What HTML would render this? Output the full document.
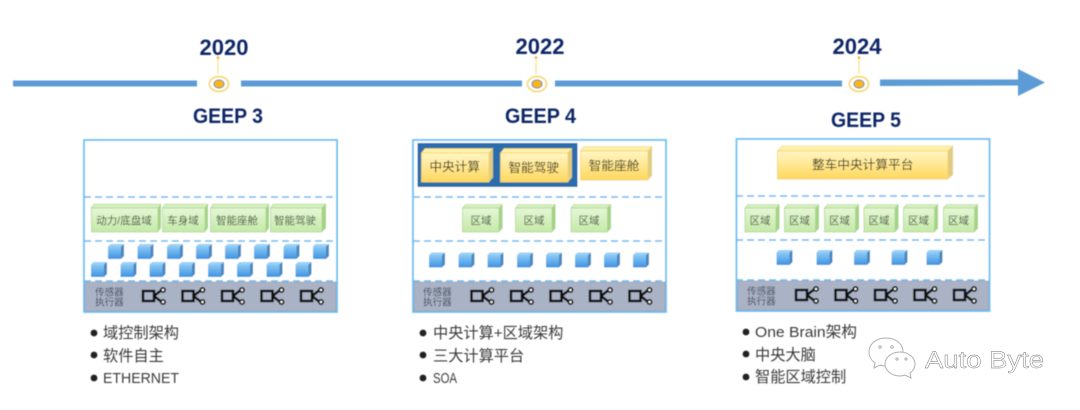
<!DOCTYPE html>
<html lang="zh">
<head>
<meta charset="utf-8">
<style>
html,body{margin:0;padding:0;background:#fff;width:1080px;height:410px;overflow:hidden}
svg{display:block}
text{font-family:"Liberation Sans","Noto Sans CJK SC",sans-serif}
.yr{font-size:22px;font-weight:bold;fill:#0f2766;text-anchor:middle}
.gp{font-size:21px;font-weight:bold;fill:#0f2766}
.li{font-size:15.2px;fill:#3a3a3a}
.sn{font-size:9.6px;fill:#3f4a5c}
.gt{font-size:10.5px;fill:#3f4f3d;text-anchor:middle}
.yt{font-size:12.7px;fill:#3a3418;text-anchor:middle}
.dash{stroke:#64b8f0;stroke-width:1.6;stroke-dasharray:7 4;fill:none}
.frame{fill:#fff;stroke:#6cc0f4;stroke-width:1.8}
.band{fill:#aab3c5;stroke:#8f9aae;stroke-width:.6}
</style>
</head>
<body>
<svg width="1080" height="410" viewBox="0 0 1080 410" xmlns="http://www.w3.org/2000/svg">
<defs>
<linearGradient id="gB" x1="0" y1="0" x2="0" y2="1"><stop offset="0" stop-color="#8ccaf5"/><stop offset="1" stop-color="#3f92e2"/></linearGradient>
<linearGradient id="gG" x1="0" y1="0" x2="0" y2="1"><stop offset="0" stop-color="#e6f6d6"/><stop offset="1" stop-color="#c4e9a8"/></linearGradient>
<linearGradient id="gY" x1="0" y1="0" x2="0" y2="1"><stop offset="0" stop-color="#fff6c4"/><stop offset="1" stop-color="#ffd75e"/></linearGradient>
<filter id="soft" x="-2%" y="-2%" width="104%" height="104%"><feGaussianBlur stdDeviation="0.4"/></filter>
<g id="cube">
<polygon points="2.5,0 16,0 13,2.5 0,2.5" fill="#98d0f7"/>
<polygon points="13,2.5 16,0 16,12 13,15" fill="#4a88c0"/>
<rect x="0" y="2.5" width="13" height="12.5" fill="url(#gB)"/>
</g>
<g id="sensor" fill="none" stroke="#0a0a0a" stroke-width="2.5">
<rect x="1" y="4" width="11" height="10"/>
<path d="M12 9 L19 3.5 M12 9 L19 14.5"/>
<circle cx="21" cy="3" r="2.1" fill="#fff" stroke-width="1.8"/>
<circle cx="21" cy="15" r="2.1" fill="#fff" stroke-width="1.8"/>
</g>
<g id="g41">
<polygon points="3.5,0.5 40.5,0.5 37,4 0.5,4" fill="#d5efbf" stroke="#a8d48c" stroke-width=".6"/>
<polygon points="37,4 40.5,0.5 40.5,24.5 37,28" fill="#a4d386"/>
<rect x="0.5" y="4" width="36.5" height="24" fill="url(#gG)" stroke="#a8d48c" stroke-width=".7"/>
</g>
<g id="g35">
<polygon points="3.5,0.5 35,0.5 31.5,4 0.5,4" fill="#d5efbf" stroke="#a8d48c" stroke-width=".6"/>
<polygon points="31.5,4 35,0.5 35,24.5 31.5,28" fill="#a4d386"/>
<rect x="0.5" y="4" width="31" height="24" fill="url(#gG)" stroke="#a8d48c" stroke-width=".7"/>
</g>
<g id="y72">
<polygon points="4,0.5 72,0.5 68,5 0.5,5" fill="#fff0a8" stroke="#f3d36c" stroke-width=".6"/>
<polygon points="68,5 72,0.5 72,29.5 68,34" fill="#e0cc80"/>
<rect x="0.5" y="5" width="67.5" height="29" fill="url(#gY)" stroke="#f3d36c" stroke-width=".8"/>
</g>
</defs>

<rect width="1080" height="410" fill="#fff"/>

<g filter="url(#soft)">
<!-- timeline -->
<g fill="#5b9bd5">
<rect x="13" y="80.5" width="184" height="6"/>
<rect x="241" y="80.5" width="281" height="6"/>
<rect x="555" y="80.5" width="287" height="6"/>
<polygon points="880,79.5 1018,79.5 1018,69 1045,82.5 1018,96 1018,85.5 880,86"/>
</g>
<g>
<line x1="218" y1="58" x2="218" y2="74" stroke="#f8de8a" stroke-width="1.2"/>
<circle cx="218" cy="57.5" r="1.3" fill="#f0b429"/>
<ellipse cx="219" cy="84" rx="9.5" ry="7.5" fill="#fff" stroke="#f7d050" stroke-width="1.4"/>
<ellipse cx="219" cy="84" rx="5" ry="4" fill="#ffb800" stroke="#7f8ea0" stroke-width="1.2"/>
</g>
<g>
<line x1="536" y1="58" x2="536" y2="74" stroke="#f8de8a" stroke-width="1.2"/>
<circle cx="536" cy="57.5" r="1.3" fill="#f0b429"/>
<ellipse cx="537" cy="84" rx="9.5" ry="7.5" fill="#fff" stroke="#f7d050" stroke-width="1.4"/>
<ellipse cx="537" cy="84" rx="5" ry="4" fill="#ffb800" stroke="#7f8ea0" stroke-width="1.2"/>
</g>
<g>
<line x1="859" y1="58" x2="859" y2="74" stroke="#f8de8a" stroke-width="1.2"/>
<circle cx="859" cy="57.5" r="1.3" fill="#f0b429"/>
<ellipse cx="859" cy="84" rx="9.5" ry="7.5" fill="#fff" stroke="#f7d050" stroke-width="1.4"/>
<ellipse cx="859" cy="84" rx="5" ry="4" fill="#ffb800" stroke="#7f8ea0" stroke-width="1.2"/>
</g>
<text class="yr" x="224" y="55">2020</text>
<text class="yr" x="540" y="54">2022</text>
<text class="yr" x="857" y="54">2024</text>
<text class="gp" x="193" y="123" textLength="70" lengthAdjust="spacingAndGlyphs">GEEP 3</text>
<text class="gp" x="505" y="123" textLength="71" lengthAdjust="spacingAndGlyphs">GEEP 4</text>
<text class="gp" x="831" y="127" textLength="70" lengthAdjust="spacingAndGlyphs">GEEP 5</text>

<!-- Panel 1 -->
<rect class="frame" x="84" y="140" width="253" height="172"/>
<rect class="band" x="85" y="282" width="251" height="29"/>
<path class="dash" d="M84 197H337M84 241H337M84 281H337"/>
<g>
<polygon points="94,204 161,204 158,208 91,208" fill="#d5efbf" stroke="#a8d48c" stroke-width=".6"/>
<polygon points="158,208 161,204 161,228 158,232" fill="#a4d386"/>
<rect x="91.5" y="208" width="66.5" height="24" fill="url(#gG)" stroke="#a8d48c" stroke-width=".7"/>
<polygon points="165,204 208,204 205,208 162.5,208" fill="#d5efbf" stroke="#a8d48c" stroke-width=".6"/>
<polygon points="205,208 208,204 208,228 205,232" fill="#a4d386"/>
<rect x="162.5" y="208" width="42.5" height="24" fill="url(#gG)" stroke="#a8d48c" stroke-width=".7"/>
<polygon points="213,204 269,204 266,208 210.5,208" fill="#d5efbf" stroke="#a8d48c" stroke-width=".6"/>
<polygon points="266,208 269,204 269,228 266,232" fill="#a4d386"/>
<rect x="210.5" y="208" width="55.5" height="24" fill="url(#gG)" stroke="#a8d48c" stroke-width=".7"/>
<polygon points="273,204 326,204 322,208 270.5,208" fill="#d5efbf" stroke="#a8d48c" stroke-width=".6"/>
<polygon points="322,208 326,204 326,228 322,232" fill="#a4d386"/>
<rect x="270.5" y="208" width="51.5" height="24" fill="url(#gG)" stroke="#a8d48c" stroke-width=".7"/>
</g>
<text class="gt" x="124" y="224">动力/底盘域</text>
<text class="gt" x="183" y="224">车身域</text>
<text class="gt" x="237" y="224">智能座舱</text>
<text class="gt" x="295" y="224">智能驾驶</text>
<use href="#cube" x="108" y="244"/><use href="#cube" x="137.5" y="244"/><use href="#cube" x="167" y="244"/><use href="#cube" x="196" y="244"/><use href="#cube" x="225" y="244"/><use href="#cube" x="254" y="244"/><use href="#cube" x="283.5" y="244"/><use href="#cube" x="313" y="244"/>
<use href="#cube" x="91" y="262"/><use href="#cube" x="120.5" y="262"/><use href="#cube" x="149.5" y="262"/><use href="#cube" x="179" y="262"/><use href="#cube" x="208" y="262"/><use href="#cube" x="237" y="262"/><use href="#cube" x="266.5" y="262"/><use href="#cube" x="295.5" y="262"/>
<text class="sn" x="95" y="295.5">传感器</text>
<text class="sn" x="95" y="305.5">执行器</text>
<use href="#sensor" x="142" y="287"/><use href="#sensor" x="181.5" y="287"/><use href="#sensor" x="221" y="287"/><use href="#sensor" x="260.5" y="287"/><use href="#sensor" x="300" y="287"/>

<!-- Panel 2 -->
<rect class="frame" x="413" y="140" width="253" height="172"/>
<rect class="band" x="414" y="282" width="251" height="29"/>
<path class="dash" d="M413 197H666M413 241H666M413 281H666"/>
<rect x="417.5" y="143" width="160" height="44" fill="#2a6cac"/>
<use href="#y72" x="421" y="148"/><use href="#y72" x="500" y="148"/><use href="#y72" x="580" y="146"/>
<text class="yt" x="454.7" y="171">中央计算</text>
<text class="yt" x="533.7" y="172">智能驾驶</text>
<text class="yt" x="614" y="170">智能座舱</text>
<use href="#g41" x="462" y="204"/><use href="#g41" x="515" y="204"/><use href="#g41" x="570.5" y="204"/>
<text class="gt" x="481" y="224">区域</text>
<text class="gt" x="534" y="224">区域</text>
<text class="gt" x="589" y="224">区域</text>
<use href="#cube" x="429" y="252.5"/><use href="#cube" x="458.5" y="252.5"/><use href="#cube" x="487.5" y="252.5"/><use href="#cube" x="517" y="252.5"/><use href="#cube" x="546" y="252.5"/><use href="#cube" x="575" y="252.5"/><use href="#cube" x="604" y="252.5"/><use href="#cube" x="633" y="252.5"/>
<text class="sn" x="423" y="295.5">传感器</text>
<text class="sn" x="423" y="305.5">执行器</text>
<use href="#sensor" x="470.5" y="287"/><use href="#sensor" x="510" y="287"/><use href="#sensor" x="549.5" y="287"/><use href="#sensor" x="589" y="287"/><use href="#sensor" x="628.5" y="287"/>

<!-- Panel 3 -->
<rect class="frame" x="736.5" y="139" width="253" height="172"/>
<rect class="band" x="737.5" y="281" width="251" height="29"/>
<path class="dash" d="M736 196H989M736 240H989M736 280H989"/>
<g>
<polygon points="782,146 953,146 948,151 777.5,151" fill="#fff0a8" stroke="#f3d36c" stroke-width=".6"/>
<polygon points="948,151 953,146 953,175 948,179" fill="#e0cc80"/>
<rect x="777.5" y="151" width="170.5" height="28" fill="url(#gY)" stroke="#f3d36c" stroke-width=".8"/>
</g>
<text class="yt" x="862.7" y="169">整车中央计算平台</text>
<use href="#g35" x="744.5" y="204"/><use href="#g35" x="784" y="204"/><use href="#g35" x="824" y="204"/><use href="#g35" x="863.5" y="204"/><use href="#g35" x="903" y="204"/><use href="#g35" x="943" y="204"/>
<text class="gt" x="760" y="224">区域</text>
<text class="gt" x="799.5" y="224">区域</text>
<text class="gt" x="839.5" y="224">区域</text>
<text class="gt" x="879" y="224">区域</text>
<text class="gt" x="918.5" y="224">区域</text>
<text class="gt" x="958.5" y="224">区域</text>
<use href="#cube" x="776.5" y="250"/><use href="#cube" x="816.5" y="250"/><use href="#cube" x="854" y="250"/><use href="#cube" x="891.5" y="250"/><use href="#cube" x="926.5" y="250"/>
<text class="sn" x="747" y="294.5">传感器</text>
<text class="sn" x="747" y="304.5">执行器</text>
<use href="#sensor" x="795" y="286"/><use href="#sensor" x="834.5" y="286"/><use href="#sensor" x="874" y="286"/><use href="#sensor" x="913.5" y="286"/><use href="#sensor" x="953" y="286"/>

<!-- Lists -->
<g fill="#222">
<circle cx="94" cy="333" r="3.4"/><circle cx="94" cy="355" r="3.4"/><circle cx="94" cy="378" r="3.4"/>
<circle cx="423" cy="333" r="3.4"/><circle cx="423" cy="355" r="3.4"/><circle cx="423" cy="378" r="3.4"/>
<circle cx="746" cy="332" r="3.4"/><circle cx="746" cy="354" r="3.4"/><circle cx="746" cy="377" r="3.4"/>
</g>
<text class="li" x="103" y="338">域控制架构</text>
<text class="li" x="103" y="361">软件自主</text>
<text class="li" x="103" y="383" textLength="76" lengthAdjust="spacingAndGlyphs">ETHERNET</text>
<text class="li" x="433" y="338">中央计算+区域架构</text>
<text class="li" x="433" y="361">三大计算平台</text>
<text class="li" x="433" y="383" textLength="24" lengthAdjust="spacingAndGlyphs">SOA</text>
<text class="li" x="755" y="337" textLength="102" lengthAdjust="spacingAndGlyphs">One Brain架构</text>
<text class="li" x="755" y="360">中央大脑</text>
<text class="li" x="755" y="382">智能区域控制</text>
</g>

<!-- Watermark -->
<g fill="#fff" stroke="#b0b0b0" stroke-width="1">
<path d="M886 338c-10 0-17 6-17 14 0 5 2 8 6 11l-1 5 6-3c2 1 4 1 6 1 10 0 17-6 17-14s-7-14-17-14z"/>
<path d="M900 352c-9 0-15 6-15 12s6 12 15 12c2 0 3 0 5-1l6 3-1-5c3-2 5-5 5-9 0-6-6-12-15-12z"/>
<circle cx="880" cy="347" r="1.3"/><circle cx="892" cy="347" r="1.3"/><circle cx="897" cy="359" r="1.1"/><circle cx="906" cy="359" r="1.1"/>
</g>
<text x="925" y="368" font-size="24" fill="#fff" stroke="#6e6e6e" stroke-width=".4" textLength="119" lengthAdjust="spacingAndGlyphs">Auto Byte</text>
</svg>
</body>
</html>
